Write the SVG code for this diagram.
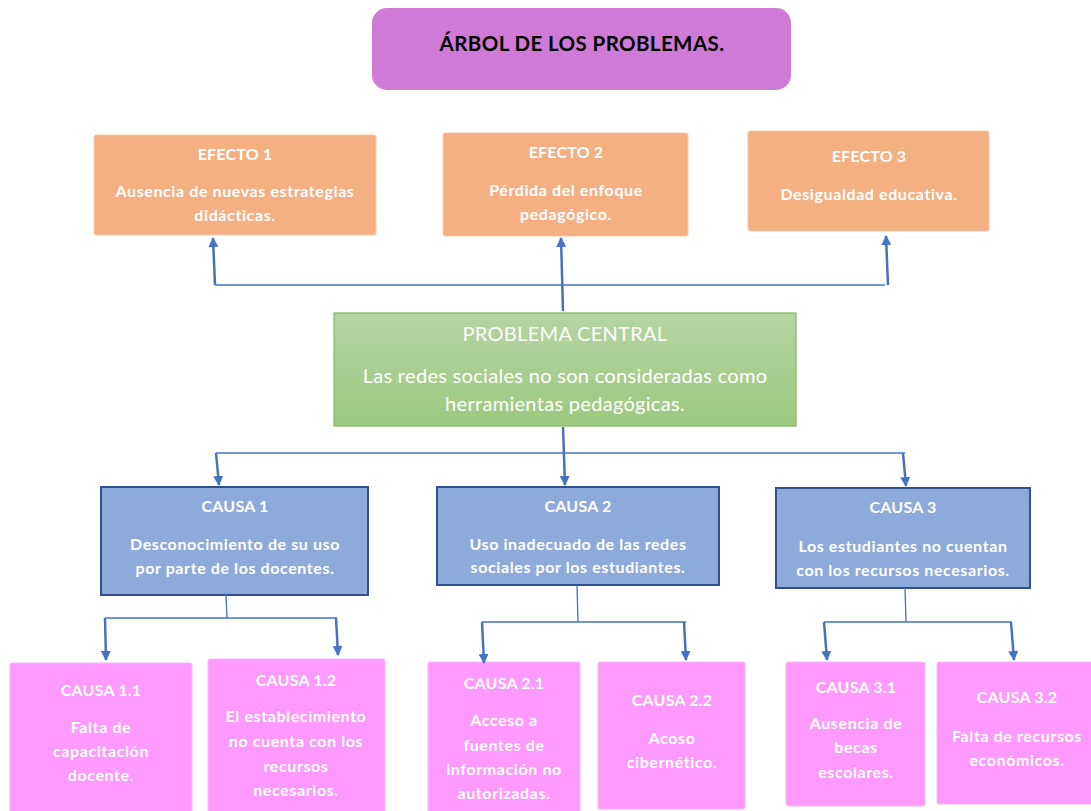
<svg xmlns="http://www.w3.org/2000/svg" width="1091" height="811" viewBox="0 0 1091 811">
<defs>
<linearGradient id="gGreen" x1="0" y1="0" x2="0" y2="1">
<stop offset="0" stop-color="#b4d5a3"/>
<stop offset="1" stop-color="#9cc97f"/>
</linearGradient>
<marker id="ah" viewBox="0 0 10 10" refX="9" refY="5" markerWidth="4" markerHeight="4" orient="auto" markerUnits="strokeWidth">
<path d="M0,0 L10,5 L0,10 Z" fill="#4472c4"/>
</marker>
<style>
text{font-family:Lato,"Open Sans","Liberation Sans",sans-serif;text-anchor:middle;fill:#ffffff}
.h{font-size:16px;font-weight:700;letter-spacing:0.2px}
.b{font-size:16px;font-weight:700;letter-spacing:0.6px}
.t{font-size:20.5px;font-weight:700;fill:#000000;letter-spacing:0.4px}
.pc{font-size:20px;font-weight:400;letter-spacing:0.3px}
.eff{fill:#f4af82;stroke:#f8c8a8;stroke-width:1}
.cau{fill:#8eaadb;stroke:#2f528f;stroke-width:2}
.sub{fill:#fe99fe;stroke:#f7b8f7;stroke-width:1}
.ln{stroke:#4472c4;stroke-width:1.3;fill:none}
.ar{stroke:#4472c4;stroke-width:2.5;fill:none;marker-end:url(#ah)}
</style>
</defs>

<g id="title">
<rect x="372" y="8" width="419" height="82" rx="15" fill="#ce7ad6"/>
<text class="t" x="582" y="51">ÁRBOL DE LOS PROBLEMAS.</text>
</g>

<g id="efecto1">
<rect class="eff" x="94" y="135" width="282" height="100" rx="2"/>
<text class="h" x="235" y="160">EFECTO 1</text>
<text class="b" x="235" y="197">Ausencia de nuevas estrategias</text>
<text class="b" x="235" y="221">didácticas.</text>
</g>
<g id="efecto2">
<rect class="eff" x="443" y="133" width="245" height="103" rx="2"/>
<text class="h" x="566" y="158">EFECTO 2</text>
<text class="b" x="566" y="196">Pérdida del enfoque</text>
<text class="b" x="566" y="220">pedagógico.</text>
</g>
<g id="efecto3">
<rect class="eff" x="748" y="131" width="241" height="100" rx="2"/>
<text class="h" x="869" y="162">EFECTO 3</text>
<text class="b" x="869" y="200">Desigualdad educativa.</text>
</g>

<g id="problema">
<rect x="334" y="313" width="462" height="113" fill="url(#gGreen)" stroke="#7fb860" stroke-width="1.2"/>
<text class="pc" x="565" y="341">PROBLEMA CENTRAL</text>
<text class="pc" x="565" y="383">Las redes sociales no son consideradas como</text>
<text class="pc" x="565" y="411">herramientas pedagógicas.</text>
</g>

<g id="causa1">
<rect class="cau" x="101" y="487" width="267" height="108"/>
<text class="h" x="235" y="512">CAUSA 1</text>
<text class="b" x="235" y="550">Desconocimiento de su uso</text>
<text class="b" x="235" y="574">por parte de los docentes.</text>
</g>
<g id="causa2">
<rect class="cau" x="437" y="487" width="282" height="98"/>
<text class="h" x="578" y="512">CAUSA 2</text>
<text class="b" x="578" y="550">Uso inadecuado de las redes</text>
<text class="b" x="578" y="573">sociales por los estudiantes.</text>
</g>
<g id="causa3">
<rect class="cau" x="776" y="488" width="254" height="100"/>
<text class="h" x="903" y="513">CAUSA 3</text>
<text class="b" x="903" y="552">Los estudiantes no cuentan</text>
<text class="b" x="903" y="576">con los recursos necesarios.</text>
</g>

<g id="causa11">
<rect class="sub" x="10" y="663" width="182" height="150" rx="2"/>
<text class="h" x="101" y="696">CAUSA 1.1</text>
<text class="b" x="101" y="733">Falta de</text>
<text class="b" x="101" y="757">capacitación</text>
<text class="b" x="101" y="781">docente.</text>
</g>
<g id="causa12">
<rect class="sub" x="208" y="659" width="177" height="154" rx="2"/>
<text class="h" x="296" y="686">CAUSA 1.2</text>
<text class="b" x="296" y="722">El establecimiento</text>
<text class="b" x="296" y="747">no cuenta con los</text>
<text class="b" x="296" y="772">recursos</text>
<text class="b" x="296" y="796">necesarios.</text>
</g>
<g id="causa21">
<rect class="sub" x="428" y="662" width="152" height="151" rx="2"/>
<text class="h" x="504" y="689">CAUSA 2.1</text>
<text class="b" x="504" y="726">Acceso a</text>
<text class="b" x="504" y="751">fuentes de</text>
<text class="b" x="504" y="775">información no</text>
<text class="b" x="504" y="799">autorizadas.</text>
</g>
<g id="causa22">
<rect class="sub" x="598" y="662" width="147" height="147" rx="2"/>
<text class="h" x="672" y="706">CAUSA 2.2</text>
<text class="b" x="672" y="744">Acoso</text>
<text class="b" x="672" y="768">cibernético.</text>
</g>
<g id="causa31">
<rect class="sub" x="786" y="662" width="139" height="144" rx="2"/>
<text class="h" x="856" y="693">CAUSA 3.1</text>
<text class="b" x="856" y="729">Ausencia de</text>
<text class="b" x="856" y="753">becas</text>
<text class="b" x="856" y="778">escolares.</text>
</g>
<g id="causa32">
<rect class="sub" x="937" y="662" width="156" height="142" rx="2"/>
<text class="h" x="1017" y="703">CAUSA 3.2</text>
<text class="b" x="1017" y="742">Falta de recursos</text>
<text class="b" x="1017" y="766">económicos.</text>
</g>

<g id="connectors">
<path class="ln" d="M215,285 H885"/>
<path class="ar" d="M215,285 L213,238"/>
<path class="ar" d="M563,311 L561,238"/>
<path class="ar" d="M888,285 L886,236"/>
<path class="ln" d="M216,453 H905"/>
<path class="ar" d="M563,427 L565,485"/>
<path class="ar" d="M216,453 L219,485"/>
<path class="ar" d="M903,453 L906,486"/>
<path class="ln" d="M226,595 L227,618 M105,618 H337"/>
<path class="ar" d="M105,618 L106,660"/>
<path class="ar" d="M336,618 L338,655"/>
<path class="ln" d="M577,585 L578,622 M482,622 H686"/>
<path class="ar" d="M482,622 L484,663"/>
<path class="ar" d="M684,622 L686,660"/>
<path class="ln" d="M905,588 L906,622 M824,622 H1012"/>
<path class="ar" d="M824,622 L827,660"/>
<path class="ar" d="M1011,622 L1014,660"/>
</g>
</svg>
